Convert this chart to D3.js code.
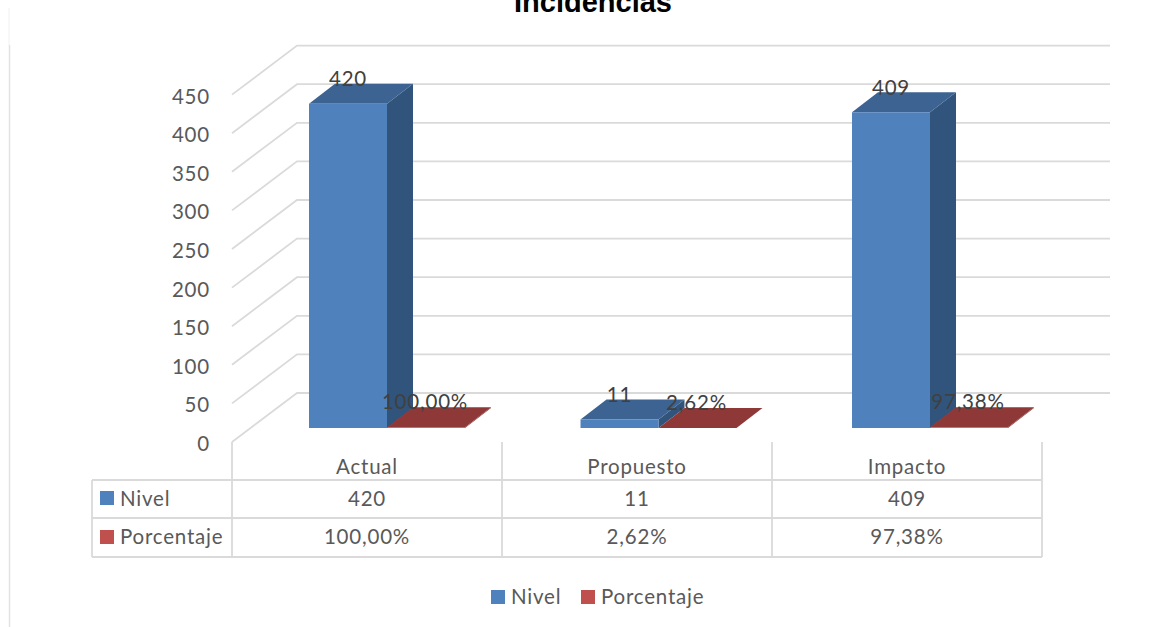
<!DOCTYPE html>
<html lang="es">
<head>
<meta charset="utf-8">
<title>Incidencias</title>
<script src="https://cdn.jsdelivr.net/npm/d3@7"></script>
<style>
html,body{margin:0;padding:0;background:#fff;overflow:hidden}
svg{display:block}
text{font-family:Lato,"Noto Sans",sans-serif;font-size:20.5px;letter-spacing:0.8px;fill:#595959}
</style>
</head>
<body>
<svg id="chart" width="1170" height="627"></svg>
<script>
// Chart content
const chartTitle = "Incidencias";
const categories = ["Actual", "Propuesto", "Impacto"];
const nivel = [420, 11, 409];
const porcentaje = [1, 0.0262, 0.9738];
const porcentajeLabels = ["100,00%", "2,62%", "97,38%"];
const seriesNames = ["Nivel", "Porcentaje"];
const axisTicks = [0, 50, 100, 150, 200, 250, 300, 350, 400, 450];

// Pseudo-3D frame
const frame = {left: 232, right: 1042, baseFront: 442, baseBar: 428};
const depthWall = {dx: 65, dy: -49};
const depthBar = {dx: 26, dy: -20};
const colors = {
  grid: "#dadada",
  blue: {front: "#4f81bd", side: "#31547d", top: "#3c6391"},
  red: {front: "#c0504d", side: "#7f3331", top: "#8e3937"}
};

const svg = d3.select("#chart");

const yAxisScale = d3.scaleLinear().domain([0, 450]).range([frame.baseFront, frame.baseFront - 347.4]);
const yBar = d3.scaleLinear().domain([0, 450]).range([frame.baseBar, frame.baseBar - 347.4]);
const xBand = d3.scaleBand().domain(categories).range([frame.left, frame.right]);
// Bars sit on the floor of the 3D box, whose category spacing is slightly wider than the table's
const xBarGroup = d3.scalePoint().domain(categories).range([309, 852]);
const xSeries = d3.scaleBand().domain(seriesNames).range([0, 156]);

// Outer chart border fragment on the left
svg.append("line").attr("x1", 9).attr("x2", 9).attr("y1", 8).attr("y2", 45)
  .attr("stroke", "#f0f0f0").attr("stroke-width", 1);
svg.append("line").attr("x1", 9.5).attr("x2", 9.5).attr("y1", 45).attr("y2", 627)
  .attr("stroke", "#e2e2e2").attr("stroke-width", 1.5);

// Title, cut by the top edge of the canvas
svg.append("text").attr("x", 593).attr("y", 12).attr("text-anchor", "middle")
  .style("font-family", "'Liberation Sans',Arial,sans-serif")
  .style("font-size", "29px").style("letter-spacing", "0").style("font-weight", "700").style("fill", "#000")
  .text(chartTitle);

// Side wall and back wall gridlines
const grid = svg.append("g").attr("fill", "none").attr("stroke", colors.grid).attr("stroke-width", 1.8);
grid.selectAll("path").data(axisTicks).join("path")
  .attr("d", d => {
    const y = yAxisScale(d);
    const p = d3.path();
    p.moveTo(frame.left, y);
    p.lineTo(frame.left + depthWall.dx, y + depthWall.dy);
    p.lineTo(1110, y + depthWall.dy);
    return p.toString();
  });

// Value axis labels
const axis = d3.axisLeft(yAxisScale).tickValues(axisTicks).tickSize(0).tickPadding(0);
const axisG = svg.append("g").attr("transform", "translate(210,2)").call(axis);
axisG.select(".domain").remove();
axisG.selectAll("text").attr("dy", "0.32em").attr("x", 0).attr("text-anchor", "end");

// Draws one extruded bar: side, top, then front face
function drawBar(g, x0, w, value, palette) {
  const yTop = yBar(value), yBase = yBar(0);
  const {dx, dy} = depthBar;
  const poly = pts => pts.map(p => p.join(",")).join(" ");
  g.append("polygon").attr("fill", palette.side)
    .attr("points", poly([[x0 + w, yTop], [x0 + w + dx, yTop + dy], [x0 + w + dx, yBase + dy], [x0 + w, yBase]]));
  g.append("polygon").attr("fill", palette.top)
    .attr("points", poly([[x0, yTop], [x0 + dx, yTop + dy], [x0 + w + dx, yTop + dy], [x0 + w, yTop]]));
  g.append("rect").attr("fill", palette.front)
    .attr("x", x0).attr("y", yTop).attr("width", w).attr("height", yBase - yTop);
}

const bars = svg.append("g");
const labels = svg.append("g").attr("text-anchor", "middle");
categories.forEach((c, i) => {
  const x0 = xBarGroup(c);
  const w = xSeries.bandwidth();
  const xB = x0 + xSeries("Nivel"), xR = x0 + xSeries("Porcentaje");
  drawBar(bars, xB, w, nivel[i], colors.blue);
  drawBar(bars, xR, w, porcentaje[i], colors.red);
  labels.append("text").attr("x", xB + w / 2).attr("y", yBar(nivel[i]) + depthBar.dy + 2.5)
    .style("fill", "#404040").text(nivel[i]);
  labels.append("text").attr("x", xR + w / 2 - 1).attr("y", yBar(porcentaje[i]) + depthBar.dy + 2)
    .style("fill", "#404040").text(porcentajeLabels[i]);
});

// Data table under the plot
const rowLines = [480, 518, 557];
const tableLeft = 92;
const table = svg.append("g").attr("stroke", colors.grid).attr("stroke-width", 1.8).attr("fill", "none");
rowLines.forEach(y => table.append("line").attr("x1", tableLeft).attr("x2", frame.right).attr("y1", y).attr("y2", y));
table.append("line").attr("x1", tableLeft).attr("x2", tableLeft).attr("y1", rowLines[0]).attr("y2", rowLines[2]);
xBand.domain().concat(["end"]).forEach((c, i) => {
  const x = frame.left + i * xBand.step();
  table.append("line").attr("x1", x).attr("x2", x).attr("y1", frame.baseFront).attr("y2", rowLines[2]);
});

const tableText = svg.append("g").attr("text-anchor", "middle");
categories.forEach((c, i) => {
  const cx = xBand(c) + xBand.bandwidth() / 2;
  tableText.append("text").attr("x", cx).attr("y", 474).text(c);
  tableText.append("text").attr("x", cx).attr("y", 505.5).text(nivel[i]);
  tableText.append("text").attr("x", cx).attr("y", 544).text(porcentajeLabels[i]);
});

// Series keys in the table rows
const seriesColor = d3.scaleOrdinal().domain(seriesNames).range([colors.blue.front, colors.red.front]);
seriesNames.forEach((s, i) => {
  const y = [491, 530][i];
  svg.append("rect").attr("x", 100).attr("y", y).attr("width", 14).attr("height", 14).attr("fill", seriesColor(s));
  svg.append("text").attr("x", 120).attr("y", [505.5, 544][i]).text(s);
});

// Bottom legend
[[491, 511], [581, 601]].forEach(([kx, tx], i) => {
  svg.append("rect").attr("x", kx).attr("y", 590).attr("width", 14).attr("height", 14).attr("fill", seriesColor(seriesNames[i]));
  svg.append("text").attr("x", tx).attr("y", 604).text(seriesNames[i]);
});
</script>
</body>
</html>
